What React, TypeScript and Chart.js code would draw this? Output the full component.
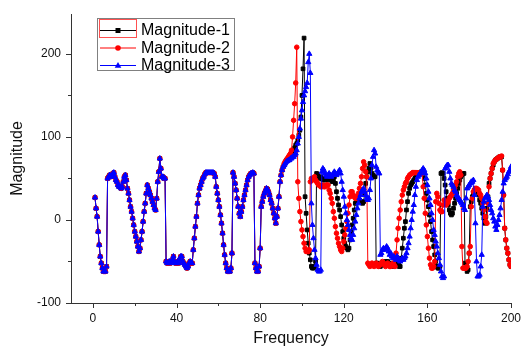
import React, { useEffect, useRef } from 'react';
import { Chart, registerables } from 'chart.js';

Chart.register(...registerables);

const FONT = '"Liberation Sans", Arial, sans-serif';

// Frequency sampling of the recorded data
const FREQ_START = 1;
const FREQ_STEP = 0.5;

const X_MIN = -10.5;
const X_MAX = 200;
const Y_MIN = -100;
const Y_MAX = 248;

const X_TICKS = [0, 20, 40, 60, 80, 100, 120, 140, 160, 180, 200];
const X_LABELED = [0, 40, 80, 120, 160, 200];
const Y_TICKS = [-100, -50, 0, 50, 100, 150, 200];
const Y_LABELED = [-100, 0, 100, 200];

const SERIES_NAMES = ['Magnitude-1', 'Magnitude-2', 'Magnitude-3'];
const SERIES_COLORS = ['#000000', '#ff0000', '#0000ff'];
const SERIES_MARKERS = ['rect', 'circle', 'triangle'];

// Common part, frequency 1.0 .. 90.5 (all three series coincide here)
const HEAD = [
  27, 14, 4, -14, -30, -44, -52, -58, -62, -62,
  -62, -56, 50, 52, 54, 52, 54, 56, 57, 52,
  48, 46, 42, 40, 40, 38, 40, 46, 52, 54,
  48, 38, 32, 24, 16, 10, 2, -6, -14, -20,
  -26, -32, -38, -34, -24, -14, -2, 10, 20, 32,
  42, 38, 34, 30, 26, 22, 18, 14, 12, 26,
  46, 58, 74, 62, 52, 52, 50, 50, -50, -52,
  -52, -50, -52, -50, -48, -44, -50, -52, -52, -50,
  -52, -48, -44, -44, -50, -52, -54, -56, -58, -56,
  -52, -50, -52, -52, -36, -22, -8, 4, 20, 30,
  38, 42, 46, 50, 52, 55, 57, 57, 57, 57,
  57, 57, 57, 57, 56, 52, 40, 32, 24, 16,
  6, -4, -16, -30, -42, -52, -58, -62, -62, -62,
  -58, -40, 57, 52, 44, 36, 26, 16, 8, 4,
  10, 16, 24, 30, 36, 42, 48, 52, 54, 56,
  56, 57, 56, -52, -58, -62, -62, -56, -34, 16,
  22, 28, 32, 35, 38, 37, 34, 30, 24, 20,
  14, 8, 2, -4, 4, 14, 28, 46, 54, 60,
];

// Frequency 91.0 .. 200.0
const MAG1_TAIL = [
  64, 66, 70, 72, 73, 74, 76, 78, 80, 82,
  84, 87, 90, 92, 96, 102, 108, 124, 150, 182,
  219, 28, 8, -12, -28, -40, -48, -56, -58, -58,
  -56, -50, 56, 54, 52, 50, 52, 50, 48, 50,
  48, 50, 50, 48, 50, 52, 48, 46, 48, 52,
  44, 34, 26, 18, 12, 4, -6, -14, -22, -28,
  -32, -34, -36, -34, -24, -14, -6, 2, 12, 20,
  26, 28, 26, 24, 22, 22, 20, 22, 32, 44,
  52, 58, 62, 68, 62, 56, 54, 52, 52, -52,
  -54, -52, -54, -56, -54, -52, -54, -52, -50, -52,
  -50, -52, -54, -52, -54, -56, -54, -52, -50, -52,
  -54, -56, -56, -46, -34, -22, -10, -2, 12, 22,
  32, 38, 42, 44, 46, 48, 50, 52, 54, 55,
  56, 57, 58, 58, 56, 50, 42, 32, 24, 16,
  6, -2, -14, -24, -32, -42, -50, -56, -58, -58,
  -56, 56, 57, 56, 50, 42, 34, 26, 18, 12,
  8, 6, 8, 14, 20, 26, 32, 38, 44, 48,
  52, 54, 56, 56, -52, -58, -62, -60, -40, 16,
  22, 28, 32, 36, 38, 37, 34, 30, 24, 20,
  14, 8, 2, -4, 4, 14, 28, 44, 50, 56,
  62, 66, 70, 72, 73, 74, 75, 76, 76, 76,
  60, 30, -10, -24, -34, -40, -48, -54, -56,
];

const MAG2_TAIL = [
  64, 68, 70, 72, 74, 76, 78, 80, 84, 100,
  120, 140, 165, 208, 46, 26, 10, -2, -12, -20,
  -28, -34, -38, -38, -38, -36, 46, 50, 48, 50,
  52, 48, 46, 44, 42, 42, 40, 40, 42, 40,
  40, 42, 42, 42, 36, 32, 26, 20, 10, 2,
  -8, -16, -22, -28, -32, -36, -38, -34, -26, -18,
  -10, -2, 8, 18, 28, 34, 34, 30, 28, 26,
  26, 28, 32, 38, 44, 52, 62, 70, 66, 58,
  52, -52, -54, -56, -54, -52, -54, -56, -54, -52,
  -54, -56, -54, -54, -52, -50, -52, -54, -56, -54,
  -52, -54, -56, -56, -54, -52, -54, -56, -40, -24,
  -10, 2, 12, 22, 30, 36, 40, 44, 46, 50,
  52, 54, 55, 56, 57, 57, 57, 57, 57, 57,
  57, 57, 57, 56, 40, 26, 8, -6, -20, -34,
  -46, -54, -58, -58, -56, -50, 22, 32, 28, 20,
  12, 10, 10, 18, 24, 22, 18, 20, 22, 26,
  28, 30, 32, 36, 38, 42, 46, 52, 56, 58,
  54, -32, -58, -58, -58, -58, -56, -50, -40, -32,
  16, 26, 34, 36, 38, 38, 37, 36, 32, 30,
  26, 20, 12, 4, -2, -4, 20, 40, 50, 56,
  62, 68, 70, 72, 73, 74, 75, 76, 76, 77,
  60, 30, -10, -24, -34, -40, -48, -54, -56,
];

const MAG3_TAIL = [
  64, 66, 68, 70, 71, 72, 72, 74, 74, 76,
  76, 78, 80, 84, 92, 100, 110, 122, 132, 142,
  150, 155, 160, 165, 190, 200, 177, 20, -6, -22,
  -36, -46, -54, -60, -62, -62, -60, 58, 62, 60,
  56, 54, 52, 54, 56, 54, 52, 54, 56, 58,
  56, 54, 56, 58, 60, 56, 46, 36, 28, 16,
  8, 0, -6, -12, -18, -22, -24, -18, -10, -2,
  6, 14, 20, 26, 30, 34, 36, 38, 34, 30,
  26, 24, 26, 36, 50, 66, 76, 84, 80, 64,
  60, 58, 56, -42, -40, -36, -34, -36, -34, -32,
  -34, -38, -42, -40, -44, -46, -44, -46, -48, -44,
  -46, -48, -50, -48, -46, -48, -46, -44, -40, -34,
  -28, -20, -10, 0, 10, 18, 30, 40, 48, 52,
  54, 56, 58, 60, 62, 60, 56, 50, 42, 34,
  26, 18, 8, 0, -12, -18, -26, -32, -40, -46,
  -54, -62, -68, -70, -68, 62, 64, 66, 66, 58,
  50, 44, 42, 40, 36, 34, 30, 28, 26, 24,
  22, 20, 18, 14, 12, 26, 38, 40, 42, 44,
  46, 46, 48, 30, -4, -50, -68, -68, -66, -56,
  -42, 16, 22, 26, 28, 30, 28, 24, 18, 12,
  8, 2, -2, -8, -12, -6, 0, 6, 14, 24,
  34, 44, 48, 50, 52, 55, 58, 60, 64,
];

const SERIES_TAILS = [MAG1_TAIL, MAG2_TAIL, MAG3_TAIL];

function buildPoints(tail: number[]) {
  const values = HEAD.concat(tail);
  return values.map((y, i) => ({ x: FREQ_START + i * FREQ_STEP, y }));
}

function drawMarker(ctx: CanvasRenderingContext2D, style: string, x: number, y: number, color: string) {
  ctx.fillStyle = color;
  ctx.beginPath();
  if (style === 'rect') {
    ctx.rect(x - 2.5, y - 2.5, 5, 5);
  } else if (style === 'circle') {
    ctx.arc(x, y, 2.8, 0, Math.PI * 2);
  } else {
    ctx.moveTo(x, y - 3.5);
    ctx.lineTo(x + 3.3, y + 2.3);
    ctx.lineTo(x - 3.3, y + 2.3);
    ctx.closePath();
  }
  ctx.fill();
}

const originPlugin = {
  id: 'originDecor',
  afterDraw(chart: any) {
    const ctx: CanvasRenderingContext2D = chart.ctx;
    const xs = chart.scales.x;
    const ys = chart.scales.y;
    const { left, bottom } = chart.chartArea;
    ctx.save();
    // tick marks (outward, major longer than minor)
    ctx.strokeStyle = '#333333';
    ctx.lineWidth = 1;
    ctx.beginPath();
    X_TICKS.forEach((v) => {
      const px = Math.round(xs.getPixelForValue(v)) + 0.5;
      const len = X_LABELED.includes(v) ? 5 : 3;
      ctx.moveTo(px, bottom);
      ctx.lineTo(px, bottom + len);
    });
    Y_TICKS.forEach((v) => {
      const py = Math.round(ys.getPixelForValue(v)) + 0.5;
      const len = Y_LABELED.includes(v) ? 5 : 3;
      ctx.moveTo(left, py);
      ctx.lineTo(left - len, py);
    });
    ctx.stroke();

    // legend box
    ctx.fillStyle = '#ffffff';
    ctx.fillRect(97, 18, 137, 52);
    ctx.strokeStyle = '#808080';
    ctx.strokeRect(97.5, 18.5, 137, 52);
    const rows = [30, 47.5, 65];
    ctx.font = '16px ' + FONT;
    ctx.textBaseline = 'middle';
    ctx.textAlign = 'left';
    SERIES_NAMES.forEach((name, i) => {
      const y = rows[i];
      ctx.strokeStyle = SERIES_COLORS[i];
      ctx.lineWidth = 1;
      ctx.beginPath();
      ctx.moveTo(100, y + 0.5);
      ctx.lineTo(136, y + 0.5);
      ctx.stroke();
      drawMarker(ctx, SERIES_MARKERS[i], 118, y + 0.5, SERIES_COLORS[i]);
      ctx.fillStyle = '#000000';
      ctx.fillText(name, 141, y + 1);
    });
    ctx.strokeStyle = '#ff5050';
    ctx.strokeRect(99.5, 19.5, 37, 18);
    ctx.restore();
  },
};

export default function App() {
  const ref = useRef<HTMLCanvasElement>(null);

  useEffect(() => {
    const canvas = ref.current;
    if (!canvas) return;
    const datasets = SERIES_NAMES.map((name, i) => ({
      label: name,
      data: buildPoints(SERIES_TAILS[i]),
      borderColor: SERIES_COLORS[i],
      backgroundColor: SERIES_COLORS[i],
      borderWidth: 1,
      pointStyle: SERIES_MARKERS[i],
      pointRadius: i === 0 ? 2.6 : i === 1 ? 2.3 : 3,
      pointBorderWidth: 1,
      pointBackgroundColor: SERIES_COLORS[i],
      pointBorderColor: SERIES_COLORS[i],
      order: 3 - i,
      tension: 0,
    }));

    const chart = new Chart(canvas, {
      type: 'line',
      data: { datasets } as any,
      options: {
        animation: false,
        responsive: false,
        devicePixelRatio: 1,
        events: [],
        layout: { padding: { top: 14, right: 13, left: 0, bottom: 0 } },
        plugins: {
          legend: { display: false },
          tooltip: { enabled: false },
        },
        scales: {
          x: {
            type: 'linear',
            min: X_MIN,
            max: X_MAX,
            afterBuildTicks: (s: any) => {
              s.ticks = X_TICKS.map((v) => ({ value: v }));
            },
            afterFit: (s: any) => {
              s.height = 46;
            },
            grid: {
              display: true,
              drawOnChartArea: false,
              drawTicks: true,
              tickLength: 5,
              tickColor: 'rgba(0,0,0,0)',
            },
            border: { display: true, color: '#333333', width: 1 },
            ticks: {
              autoSkip: false,
              maxRotation: 0,
              padding: 3,
              color: '#111111',
              font: { family: FONT, size: 12 },
              callback: (v: any) => (X_LABELED.includes(Number(v)) ? String(v) : ''),
            },
            title: {
              display: true,
              text: 'Frequency',
              color: '#111111',
              font: { family: FONT, size: 16 },
              padding: { top: 0, bottom: 1 },
            },
          },
          y: {
            type: 'linear',
            min: Y_MIN,
            max: Y_MAX,
            afterBuildTicks: (s: any) => {
              s.ticks = Y_TICKS.map((v) => ({ value: v }));
            },
            afterFit: (s: any) => {
              s.width = 71;
            },
            grid: {
              display: true,
              drawOnChartArea: false,
              drawTicks: true,
              tickLength: 5,
              tickColor: 'rgba(0,0,0,0)',
            },
            border: { display: true, color: '#333333', width: 1 },
            ticks: {
              autoSkip: false,
              padding: 5,
              color: '#111111',
              font: { family: FONT, size: 12 },
              callback: (v: any) => (Y_LABELED.includes(Number(v)) ? String(v) : ''),
            },
            title: {
              display: true,
              text: 'Magnitude',
              color: '#111111',
              font: { family: FONT, size: 16 },
              padding: { top: 8, bottom: 0 },
            },
          },
        },
      },
      plugins: [originPlugin],
    } as any);

    return () => chart.destroy();
  }, []);

  return (
    <div style={{ position: 'fixed', left: 0, top: 0, width: 524, height: 349, background: '#ffffff' }}>
      <canvas ref={ref} width={524} height={349} style={{ width: 524, height: 349, display: 'block' }} />
    </div>
  );
}
